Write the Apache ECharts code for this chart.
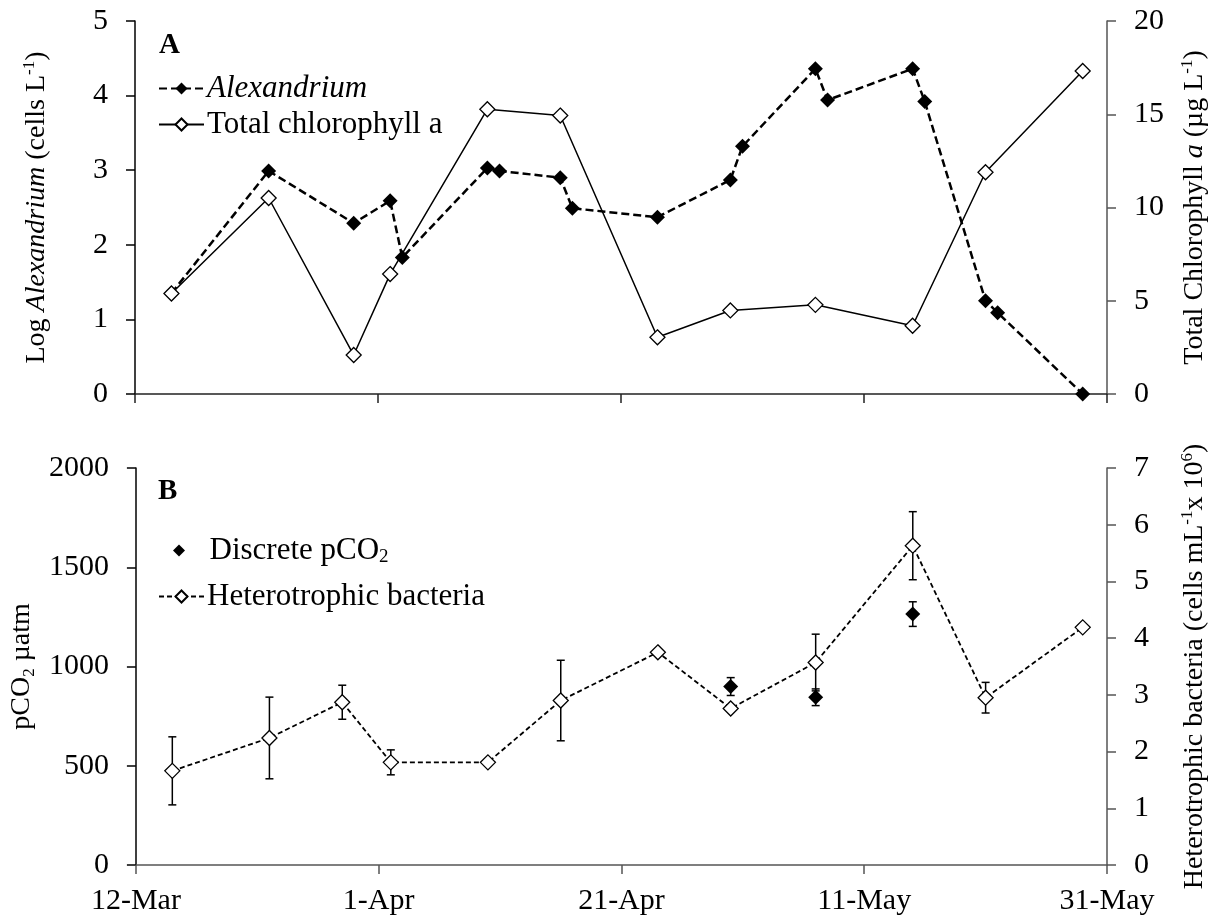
<!DOCTYPE html>
<html>
<head>
<meta charset="utf-8">
<script src="https://cdn.jsdelivr.net/npm/echarts@6/dist/echarts.min.js"></script>
<style>
html,body{margin:0;padding:0;background:#fff;}
#chart{width:1221px;height:921px;}
</style>
</head>
<body>
<div id="chart"></div>
<script>
// ---------- DATA ----------
const xTickLabels = ['12-Mar', '1-Apr', '21-Apr', '11-May', '31-May'];

// Panel A
const alexDates = ['15-Mar','23-Mar','30-Mar','2-Apr','3-Apr','10-Apr','11-Apr','16-Apr','17-Apr','24-Apr','30-Apr','1-May','7-May','8-May','15-May','16-May','21-May','22-May','29-May'];
const alexLog   = [1.35, 2.99, 2.29, 2.59, 1.83, 3.03, 2.99, 2.90, 2.49, 2.37, 2.87, 3.32, 4.36, 3.94, 4.36, 3.92, 1.25, 1.09, 0.00];

const chlDates = ['15-Mar','23-Mar','30-Mar','2-Apr','10-Apr','16-Apr','24-Apr','30-Apr','7-May','15-May','21-May','29-May'];
const chlValues = [5.39, 10.51, 2.09, 6.43, 15.27, 14.93, 3.04, 4.48, 4.78, 3.66, 11.89, 17.32];

// Panel B
const pco2Dates  = ['30-Apr','7-May','15-May'];
const pco2Values = [899, 845, 1264];
const pco2Err    = [45, 42, 62];

const bactDates  = ['15-Mar','23-Mar','29-Mar','2-Apr','10-Apr','16-Apr','24-Apr','30-Apr','7-May','15-May','21-May','29-May'];
const bactValues = [1.66, 2.24, 2.87, 1.81, 1.81, 2.90, 3.75, 2.76, 3.57, 5.63, 2.95, 4.19];
const bactErr    = [0.60, 0.72, 0.30, 0.22, 0, 0.71, 0, 0, 0.50, 0.60, 0.27, 0.05];

// ---------- HELPERS ----------
const MONTHS = {Mar: 2, Apr: 3, May: 4};
function dayOffset(s) {
  const parts = s.split('-');
  return (Date.UTC(2001, MONTHS[parts[1]], +parts[0]) - Date.UTC(2001, 2, 12)) / 86400000;
}
function pairs(dates, vals) { return dates.map((d, i) => [dayOffset(d), vals[i]]); }
function triples(dates, vals, errs) { return dates.map((d, i) => [dayOffset(d), vals[i], errs[i]]); }

const FONT = "'Liberation Serif','Times New Roman',serif";
const FS = 30;   // tick labels
const NS = 28;   // axis names
const rich = {
  n:   {fontFamily: FONT, fontSize: NS, lineHeight: 32, color: '#000'},
  i:   {fontFamily: FONT, fontSize: NS, lineHeight: 32, color: '#000', fontStyle: 'italic'},
  sup: {fontFamily: FONT, fontSize: 17, color: '#000', verticalAlign: 'top', lineHeight: 18},
  sub: {fontFamily: FONT, fontSize: 17, color: '#000', verticalAlign: 'bottom', lineHeight: 18}
};
const DIAMOND = 'path://M0,-1L1,0L0,1L-1,0Z';

function errRender(params, api) {
  const e = api.value(2);
  if (!e) return null;
  const x = api.value(0), y = api.value(1);
  const top = api.coord([x, y + e]);
  const bot = api.coord([x, y - e]);
  const w = 4;
  const st = {stroke: '#000', lineWidth: 1.5};
  return {
    type: 'group',
    children: [
      {type: 'line', shape: {x1: top[0], y1: top[1], x2: bot[0], y2: bot[1]}, style: st},
      {type: 'line', shape: {x1: top[0] - w, y1: top[1], x2: top[0] + w, y2: top[1]}, style: st},
      {type: 'line', shape: {x1: bot[0] - w, y1: bot[1], x2: bot[0] + w, y2: bot[1]}, style: st}
    ]
  };
}

const xCommon = (showLabel, lineColor) => ({
  type: 'value', min: 0, max: 80, interval: 20,
  axisLine: {show: true, onZero: false, lineStyle: {color: lineColor, width: 1.5}},
  axisTick: {show: true, inside: false, length: 9, lineStyle: {color: lineColor, width: 1.5}},
  splitLine: {show: false},
  axisLabel: {
    show: showLabel, margin: 21, fontFamily: FONT, fontSize: FS, color: '#000',
    formatter: v => xTickLabels[Math.round(v / 20)] || ''
  }
});

const yCommon = (gridIndex, position, min, max, interval, lineColor, name, nameGap) => ({
  type: 'value', gridIndex, position, min, max, interval,
  axisLine: {show: true, lineStyle: {color: lineColor, width: 1.5}},
  axisTick: {show: true, inside: false, length: 9, lineStyle: {color: lineColor, width: 1.5}},
  splitLine: {show: false},
  axisLabel: {margin: 27, fontFamily: FONT, fontSize: FS, color: '#000', formatter: v => String(v)},
  name, nameLocation: 'middle', nameRotate: 90, nameGap,
  nameTextStyle: {rich}
});

const legendText = {fontFamily: FONT, fontSize: 31, color: '#000'};

const option = {
  backgroundColor: '#fff',
  animation: false,
  grid: [
    {left: 135, right: 114, top: 21, bottom: 527, containLabel: false},
    {left: 135, right: 114, top: 468, bottom: 56, containLabel: false}
  ],
  xAxis: [
    Object.assign({gridIndex: 0}, xCommon(false, '#222')),
    Object.assign({gridIndex: 1}, xCommon(true, '#555'))
  ],
  yAxis: [
    yCommon(0, 'left', 0, 5, 1, '#000', '{n|Log }{i|Alexandrium}{n| (cells L}{sup|-1}{n|)}', 82),
    yCommon(0, 'right', 0, 20, 5, '#555', '{n|Total Chlorophyll }{i|a}{n| (µg L}{sup|-1}{n|)}', 72),
    yCommon(1, 'left', 0, 2000, 500, '#000', '{n|pCO}{sub|2}{n| µatm}', 84),
    yCommon(1, 'right', 0, 7, 1, '#555', '{n|Heterotrophic bacteria (cells mL}{sup|-1}{n|x 10}{sup|6}{n|)}', 72)
  ],
  legend: [
    {
      left: 158, top: 73, orient: 'vertical', itemGap: 5, itemWidth: 45, itemHeight: 15, padding: 0,
      textStyle: Object.assign({padding: [0, 0, 0, -2]}, legendText),
      data: [
        {name: 'Alexandrium', textStyle: {fontStyle: 'italic'}},
        {name: 'Total chlorophyll a'}
      ]
    },
    {
      left: 173, top: 535, orient: 'vertical', itemWidth: 45, itemHeight: 12, padding: 0,
      textStyle: Object.assign({}, legendText, {rich: {
        n: {fontFamily: FONT, fontSize: 31, lineHeight: 32, color: '#000', padding: [0, 0, 0, 3]},
        sub: {fontFamily: FONT, fontSize: 19, color: '#000', verticalAlign: 'bottom', lineHeight: 18}
      }}),
      formatter: () => '{n|Discrete pCO}{sub|2}',
      data: [{name: 'Discrete pCO2', icon: DIAMOND, itemStyle: {color: '#000', opacity: 1}}]
    },
    {
      left: 158, top: 581, orient: 'vertical', itemWidth: 45, itemHeight: 15, padding: 0,
      textStyle: Object.assign({padding: [0, 0, 0, -2]}, legendText),
      data: [{name: 'Heterotrophic bacteria'}]
    }
  ],
  graphic: [
    {type: 'text', left: 159, top: 31, style: {text: 'A', fontFamily: FONT, fontSize: 29, fontWeight: 'bold', fill: '#000'}},
    {type: 'text', left: 158, top: 477, style: {text: 'B', fontFamily: FONT, fontSize: 29, fontWeight: 'bold', fill: '#000'}}
  ],
  series: [
    {
      name: 'Alexandrium', type: 'line', xAxisIndex: 0, yAxisIndex: 0, z: 2,
      data: pairs(alexDates, alexLog),
      symbol: 'diamond', symbolSize: 15,
      lineStyle: {color: '#000', width: 2.5, type: [8, 4]},
      itemStyle: {color: '#000', borderColor: '#000', borderWidth: 0}
    },
    {
      name: 'Total chlorophyll a', type: 'line', xAxisIndex: 0, yAxisIndex: 1, z: 3,
      data: pairs(chlDates, chlValues),
      symbol: 'diamond', symbolSize: 15, showAllSymbol: true,
      lineStyle: {color: '#000', width: 1.5, type: 'solid'},
      itemStyle: {color: '#fff', borderColor: '#000', borderWidth: 1.3}
    },
    {
      name: 'errB', type: 'custom', xAxisIndex: 1, yAxisIndex: 3, z: 2,
      data: triples(bactDates, bactValues, bactErr), renderItem: errRender
    },
    {
      name: 'errP', type: 'custom', xAxisIndex: 1, yAxisIndex: 2, z: 2,
      data: triples(pco2Dates, pco2Values, pco2Err), renderItem: errRender
    },
    {
      name: 'Heterotrophic bacteria', type: 'line', xAxisIndex: 1, yAxisIndex: 3, z: 3,
      data: pairs(bactDates, bactValues),
      symbol: 'diamond', symbolSize: 15,
      lineStyle: {color: '#000', width: 1.8, type: [5, 3]},
      itemStyle: {color: '#fff', borderColor: '#000', borderWidth: 1.3}
    },
    {
      name: 'Discrete pCO2', type: 'scatter', xAxisIndex: 1, yAxisIndex: 2, z: 4,
      data: pairs(pco2Dates, pco2Values),
      symbol: 'diamond', symbolSize: 15,
      itemStyle: {color: '#000', opacity: 1}
    }
  ]
};

const chart = echarts.init(document.getElementById('chart'), null, {renderer: 'canvas'});
chart.setOption(option);
</script>
</body>
</html>
